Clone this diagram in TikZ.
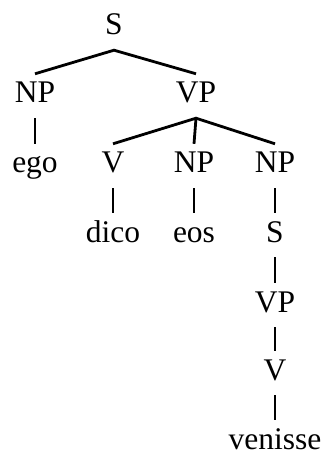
\documentclass[tikz,border=0pt]{standalone}
\usepackage{fontspec}
\setmainfont{Liberation Serif}
\begin{document}
\begin{tikzpicture}[x=1pt,y=-1pt,
    cat/.style={anchor=base,inner xsep=0pt,inner ysep=0pt,text height=29pt,text depth=15pt,font=\fontsize{31.5}{36}\selectfont},
    branch/.style={line width=2.8pt}]
  \useasboundingbox (0,0) rectangle (326,454);
  % categories and words, placed on their baselines
  \node[cat] (s) at (114,35) {S};
  \node[cat] (np1) at (35,103) {NP};
  \node[cat] (vp) at (196,103) {VP};
  \node[cat] (ego) at (35,173) {ego};
  \node[cat] (v) at (113,173) {V};
  \node[cat] (np2) at (194,173) {NP};
  \node[cat] (np3) at (275,173) {NP};
  \node[cat] (dico) at (113,242) {dico};
  \node[cat] (eos) at (194,242) {eos};
  \node[cat] (s2) at (275,242) {S};
  \node[cat] (vp2) at (275,312) {VP};
  \node[cat] (v2) at (275,380) {V};
  \node[cat,text depth=1pt] (venisse) at (275,449) {venisse};
  % branches
  \draw[branch] (np1.north) -- (s.south) -- (vp.north);
  \draw[branch] (np1.south) -- (ego.north);
  \draw[branch] (v.north) -- (vp.south) -- (np3.north);
  \draw[branch] (vp.south) -- (np2.north);
  \draw[branch] (v.south) -- (dico.north);
  \draw[branch] (np2.south) -- (eos.north);
  \draw[branch] (np3.south) -- (s2.north);
  \draw[branch] (s2.south) -- (vp2.north);
  \draw[branch] (vp2.south) -- (v2.north);
  \draw[branch] (v2.south) -- (venisse.north);
\end{tikzpicture}
\end{document}
